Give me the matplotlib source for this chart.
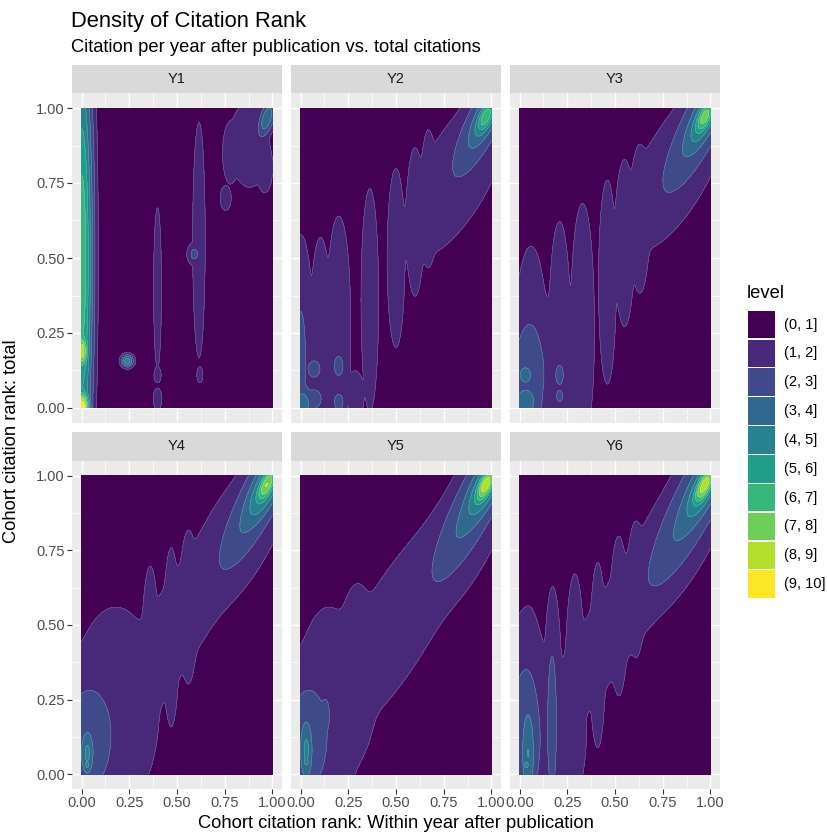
import numpy as np
import matplotlib
matplotlib.use("Agg")
import matplotlib.pyplot as plt
from matplotlib.patches import Rectangle

plt.rcParams['font.family'] = ['Liberation Sans', 'DejaVu Sans']

# facet names and density levels
panels = ["Y1", "Y2", "Y3", "Y4", "Y5", "Y6"]
level_labels = ["(0, 1]", "(1, 2]", "(2, 3]", "(3, 4]", "(4, 5]",
                "(5, 6]", "(6, 7]", "(7, 8]", "(8, 9]", "(9, 10]"]
level_breaks = np.arange(0, 11)
level_colors = ["#440154", "#482878", "#3E4A89", "#31688E", "#26828E",
                "#1F9E89", "#35B779", "#6DCD59", "#B4DE2C", "#FDE725"]
ticks = [0.0, 0.25, 0.5, 0.75, 1.0]
tick_labels = ["0.00", "0.25", "0.50", "0.75", "1.00"]

# density bumps:
# (centre x, centre y, sd along angle, sd across, angle deg, peak density)
y1_bumps = [
    (0.000, 0.50, 0.045, 0.55, 0, 6.8),
    (0.000, 0.19, 0.028, 0.05, 0, 8.8),
    (0.000, 0.00, 0.032, 0.05, 0, 10.0),
    (0.240, 0.157, 0.025, 0.016, 0, 4.6),
    (0.398, 0.40, 0.020, 0.26, 0, 1.7),
    (0.398, 0.11, 0.018, 0.025, 0, 1.7),
    (0.398, 0.03, 0.022, 0.035, 0, 1.7),
    (0.615, 0.56, 0.032, 0.38, 0, 1.7),
    (0.590, 0.513, 0.030, 0.03, 0, 2.3),
    (0.620, 0.11, 0.015, 0.025, 0, 1.7),
    (0.880, 0.88, 0.100, 0.14, 0, 1.7),
    (0.780, 0.85, 0.040, 0.10, 0, 1.7),
    (0.755, 0.70, 0.028, 0.04, 0, 1.7),
    (0.960, 0.80, 0.040, 0.08, 0, 1.7),
    (0.970, 0.965, 0.060, 0.03, 60, 3.7),
]
y2_bumps = [
    (0.96, 0.96, 0.23, 0.075, 50, 3.3),
    (0.97, 0.97, 0.11, 0.045, 50, 5.0),
    (0.97, 0.97, 0.06, 0.028, 50, 6.8),
    (0.82, 0.78, 0.35, 0.150, 45, 1.7),
    (0.50, 0.50, 0.045, 0.29, 0, 1.7),
    (0.60, 0.62, 0.045, 0.24, 0, 1.7),
    (0.67, 0.70, 0.040, 0.22, 0, 1.7),
    (0.00, 0.28, 0.060, 0.29, 0, 1.7),
    (0.105, 0.28, 0.050, 0.28, 0, 1.7),
    (0.20, 0.31, 0.060, 0.32, 0, 1.7),
    (0.10, 0.12, 0.150, 0.20, 0, 1.7),
    (0.29, 0.04, 0.040, 0.08, 0, 1.7),
    (0.363, 0.36, 0.045, 0.36, 0, 1.7),
    (0.00, 0.16, 0.035, 0.21, 0, 2.6),
    (0.07, 0.13, 0.040, 0.035, 0, 2.6),
    (0.07, 0.03, 0.050, 0.04, 0, 2.6),
    (0.01, 0.01, 0.050, 0.06, 0, 3.6),
    (0.20, 0.14, 0.030, 0.042, 0, 2.6),
    (0.20, 0.02, 0.030, 0.035, 0, 2.6),
]
y3_bumps = [
    (0.96, 0.96, 0.29, 0.085, 50, 3.4),
    (0.97, 0.97, 0.13, 0.050, 50, 5.3),
    (0.97, 0.97, 0.065, 0.030, 50, 7.6),
    (0.82, 0.80, 0.35, 0.150, 45, 1.7),
    (0.06, 0.22, 0.080, 0.31, 0, 1.7),
    (0.21, 0.25, 0.055, 0.36, 0, 1.7),
    (0.33, 0.28, 0.060, 0.39, 0, 1.7),
    (0.46, 0.42, 0.045, 0.33, 0, 1.7),
    (0.55, 0.55, 0.050, 0.27, 0, 1.7),
    (0.63, 0.63, 0.050, 0.24, 0, 1.7),
    (0.15, 0.12, 0.200, 0.22, 0, 1.7),
    (0.05, 0.11, 0.100, 0.22, 0, 2.6),
    (0.03, 0.11, 0.040, 0.036, 0, 3.6),
    (0.03, 0.02, 0.070, 0.06, 0, 3.6),
    (0.21, 0.11, 0.025, 0.04, 0, 2.6),
    (0.21, 0.04, 0.020, 0.025, 0, 2.6),
]
y4_bumps = [
    (0.95, 0.95, 0.31, 0.085, 50, 3.5),
    (0.97, 0.97, 0.15, 0.055, 50, 5.5),
    (0.97, 0.97, 0.07, 0.030, 50, 8.0),
    (0.82, 0.80, 0.35, 0.150, 45, 1.7),
    (0.50, 0.50, 0.55, 0.130, 45, 1.7),
    (0.18, 0.22, 0.22, 0.33, 0, 1.7),
    (0.36, 0.45, 0.040, 0.24, 0, 1.7),
    (0.47, 0.46, 0.040, 0.29, 0, 1.7),
    (0.56, 0.56, 0.045, 0.25, 0, 1.7),
    (0.04, 0.12, 0.150, 0.22, 0, 2.6),
    (0.03, 0.07, 0.035, 0.08, 0, 4.2),
    (0.03, 0.03, 0.012, 0.012, 0, 4.6),
]
y5_bumps = [
    (0.95, 0.95, 0.36, 0.090, 50, 3.5),
    (0.97, 0.97, 0.15, 0.055, 50, 5.5),
    (0.97, 0.97, 0.07, 0.030, 50, 8.7),
    (0.82, 0.78, 0.35, 0.150, 45, 1.7),
    (0.50, 0.50, 0.50, 0.160, 45, 1.7),
    (0.15, 0.22, 0.17, 0.33, 0, 1.7),
    (0.30, 0.35, 0.10, 0.28, 0, 1.7),
    (0.04, 0.12, 0.13, 0.22, 0, 2.6),
    (0.13, 0.20, 0.025, 0.06, 0, 2.6),
    (0.03, 0.08, 0.035, 0.11, 0, 4.2),
    (0.03, 0.04, 0.012, 0.012, 0, 4.7),
]
y6_bumps = [
    (0.95, 0.95, 0.38, 0.095, 50, 3.5),
    (0.97, 0.97, 0.16, 0.055, 50, 5.5),
    (0.97, 0.97, 0.075, 0.030, 50, 8.7),
    (0.82, 0.79, 0.35, 0.150, 45, 1.7),
    (0.50, 0.50, 0.50, 0.120, 45, 1.7),
    (0.12, 0.12, 0.22, 0.25, 0, 1.7),
    (0.05, 0.22, 0.060, 0.31, 0, 1.7),
    (0.175, 0.25, 0.045, 0.36, 0, 1.7),
    (0.29, 0.29, 0.050, 0.37, 0, 1.7),
    (0.41, 0.40, 0.040, 0.30, 0, 1.7),
    (0.52, 0.53, 0.045, 0.26, 0, 1.7),
    (0.61, 0.62, 0.045, 0.22, 0, 1.7),
    (0.03, 0.12, 0.100, 0.31, 0, 2.6),
    (0.045, 0.07, 0.035, 0.16, 0, 4.0),
    (0.035, 0.03, 0.012, 0.012, 0, 4.7),
    (0.17, 0.17, 0.030, 0.30, 0, 2.6),
]
all_bumps = [y1_bumps, y2_bumps, y3_bumps, y4_bumps, y5_bumps, y6_bumps]


def density(bumps, X, Y, p=8):
    acc = np.zeros_like(X)
    for cx, cy, sa, sb, ang, pk in bumps:
        t = np.radians(ang)
        dx, dy = X - cx, Y - cy
        u = dx * np.cos(t) + dy * np.sin(t)
        v = -dx * np.sin(t) + dy * np.cos(t)
        acc += (pk * np.exp(-0.5 * (u**2 / sa**2 + v**2 / sb**2)))**p
    return np.clip(acc**(1.0 / p), 0.05, 9.99)


W, H = 828, 834
fig = plt.figure(figsize=(W / 100, H / 100), dpi=100)

col_x = [(72, 282), (291, 501), (510, 720)]
row_y = [(93, 423), (461, 789)]
strip_y = [(65, 93), (432, 461)]

g = np.linspace(0, 1, 401)
X, Y = np.meshgrid(g, g)

for i, name in enumerate(panels):
    r, c = divmod(i, 3)
    x0, x1 = col_x[c]
    y0, y1 = row_y[r]
    ax = fig.add_axes([x0 / W, 1 - y1 / H, (x1 - x0) / W, (y1 - y0) / H])
    ax.set_facecolor("#EBEBEB")
    for s in ax.spines.values():
        s.set_visible(False)
    for v in [0.125, 0.375, 0.625, 0.875]:
        ax.axvline(v, color="white", lw=0.5, zorder=0)
        ax.axhline(v, color="white", lw=0.5, zorder=0)
    for v in ticks:
        ax.axvline(v, color="white", lw=1.0, zorder=0)
        ax.axhline(v, color="white", lw=1.0, zorder=0)

    Z = density(all_bumps[i], X, Y)
    ax.contourf(X, Y, Z, levels=level_breaks, colors=level_colors, zorder=2)
    ax.contour(X, Y, Z, levels=level_breaks[1:], colors="white",
               linewidths=0.4, alpha=0.3, zorder=3)

    ax.set_xlim(-0.05, 1.05)
    ax.set_ylim(-0.05, 1.05)
    ax.set_xticks(ticks)
    ax.set_yticks(ticks)
    ax.tick_params(length=3.3, width=0.8, color="#333333",
                   labelcolor="#4D4D4D", labelsize=10.5, pad=2)
    if c == 0:
        ax.set_yticklabels(tick_labels)
    else:
        ax.set_yticklabels([])
        ax.tick_params(axis="y", length=0)
    if r == 1:
        ax.set_xticklabels(tick_labels)
    else:
        ax.set_xticklabels([])
        ax.tick_params(axis="x", length=0)

    sy0, sy1 = strip_y[r]
    sax = fig.add_axes([x0 / W, 1 - sy1 / H, (x1 - x0) / W, (sy1 - sy0) / H])
    sax.set_facecolor("#D9D9D9")
    sax.set_xticks([])
    sax.set_yticks([])
    for s in sax.spines.values():
        s.set_visible(False)
    sax.text(0.5, 0.5, name, ha="center", va="center", fontsize=10.5,
             color="#1A1A1A", transform=sax.transAxes)

# titles and axis titles in pixel positions
lay = fig.add_axes([0, 0, 1, 1], facecolor="none")
lay.set_xlim(0, W)
lay.set_ylim(H, 0)
lay.axis("off")
lay.text(71, 26.5, "Density of Citation Rank", fontsize=15.8, va="baseline",
         ha="left", color="black")
lay.text(71, 51.5, "Citation per year after publication vs. total citations",
         fontsize=13.2, va="baseline", ha="left", color="black")
lay.text(396, 823, "Cohort citation rank: Within year after publication",
         fontsize=13.2, ha="center", va="center", color="black")
lay.text(12, 441, "Cohort citation rank: total", fontsize=13.2, ha="center",
         va="center", rotation=90, color="black")

# legend
lay.text(747, 293, "level", fontsize=13.2, ha="left", va="center")
for k, (lab, col) in enumerate(zip(level_labels, level_colors)):
    top = 310.7 + 28.85 * k
    lay.add_patch(Rectangle((747.7, top), 27.3, 27.6, facecolor=col,
                            edgecolor="none"))
    lay.text(784.3, top + 13.8, lab, fontsize=10.5, ha="left", va="center",
             color="black")

fig.savefig("out.png", dpi=100)
